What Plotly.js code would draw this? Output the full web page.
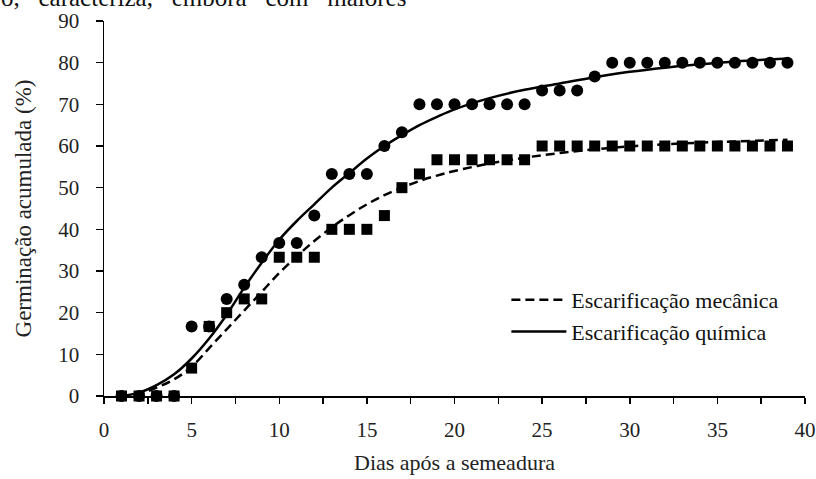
<!DOCTYPE html>
<html>
<head>
<meta charset="utf-8">
<script src="https://cdn.plot.ly/plotly-3.0.1.min.js"></script>
<style>html,body{margin:0;padding:0;background:#fff;}#chart{width:816px;height:479px;}</style>
</head>
<body>
<div id="chart"></div>
<script>
// Observed points (days 1..39)
const days = [1,2,3,4,5,6,7,8,9,10,11,12,13,14,15,16,17,18,19,20,21,22,23,24,25,26,27,28,29,30,31,32,33,34,35,36,37,38,39];
const mecanica = [0,0,0,0,6.7,16.7,20,23.3,23.3,33.3,33.3,33.3,40,40,40,43.3,50,53.3,56.7,56.7,56.7,56.7,56.7,56.7,60,60,60,60,60,60,60,60,60,60,60,60,60,60,60];
const quimica = [0,0,0,0,16.7,16.7,23.3,26.7,33.3,36.7,36.7,43.3,53.3,53.3,53.3,60,63.3,70,70,70,70,70,70,70,73.3,73.3,73.3,76.7,80,80,80,80,80,80,80,80,80,80,80];

// Fitted curves
const curveDays = [1,2,3,4,5,6,7,8,9,10,11,12,13,14,15,16,17,18,19,20,22,24,26,28,30,32,34,36,39];
const curveMecanica = [0,0.5,2,4,7,11.5,16,20.5,25,29.5,33.5,37.2,40.5,43.4,46,48.2,50,51.6,52.9,54,55.8,57.2,58.3,59.2,59.9,60.4,60.8,61.1,61.5];
const curveQuimica = [0,0.8,2.6,5.2,9,13.8,19.5,26,32,37.5,42,46,50,53.5,57,60,62.6,65,67,68.8,71.5,73.5,75,76.5,77.8,78.8,79.6,80.3,81];

const labelMec = 'Escarificação mecânica';
const labelQui = 'Escarificação química';
const xTitle = 'Dias após a semeadura';
const yTitle = 'Germinação acumulada (%)';
const topText = 'o,\u00a0\u00a0\u00a0caracteriza,\u00a0\u00a0\u00a0embora\u00a0\u00a0\u00a0com\u00a0\u00a0\u00a0maiores';

const serif = "'Liberation Serif', 'Times New Roman', Times, serif";

const traces = [
  {x: days, y: mecanica, type: 'scatter', mode: 'markers', showlegend: false, cliponaxis: false,
   marker: {symbol: 'square', size: 11, color: '#000'}},
  {x: days, y: quimica, type: 'scatter', mode: 'markers', showlegend: false, cliponaxis: false,
   marker: {symbol: 'circle', size: 12, color: '#000'}},
  {x: curveDays, y: curveMecanica, type: 'scatter', mode: 'lines', name: labelMec, legendgroup: 'a',
   line: {color: '#000', width: 2.5, dash: '9px,5px', shape: 'spline'}},
  {x: curveDays, y: curveQuimica, type: 'scatter', mode: 'lines', name: labelQui, legendgroup: 'b',
   line: {color: '#000', width: 2.5, shape: 'spline'}}
];

const layout = {
  width: 816, height: 479,
  margin: {l: 104, r: 11, t: 21, b: 83},
  paper_bgcolor: '#fff', plot_bgcolor: '#fff',
  font: {family: serif, size: 20, color: '#222'},
  showlegend: true,
  legend: {x: 0.574, y: 0.312, xanchor: 'left', yanchor: 'top', bgcolor: 'rgba(0,0,0,0)',
           itemwidth: 55,
           font: {family: serif, size: 22, color: '#111'}, tracegroupgap: 17, traceorder: 'normal'},
  xaxis: {range: [0, 40], dtick: 5, tick0: 0, showgrid: false, zeroline: false,
          showline: true, linecolor: '#000', linewidth: 1.5,
          ticks: 'outside', ticklen: 6, tickwidth: 1.5, tickcolor: '#000',
          minor: {dtick: 2.5, ticks: 'outside', ticklen: 6, tickwidth: 1.5, tickcolor: '#000', showgrid: false},
          ticklabelstandoff: 8,
          tickfont: {family: serif, size: 21, color: '#222'},
          title: {text: xTitle, font: {family: serif, size: 22, color: '#222'}, standoff: 14},
          automargin: false},
  yaxis: {range: [0, 90], dtick: 10, showgrid: false, zeroline: false,
          showline: true, linecolor: '#000', linewidth: 1.5,
          ticks: 'outside', ticklen: 7, tickwidth: 1.5, tickcolor: '#000',
          ticklabelstandoff: 12,
          tickfont: {family: serif, size: 21, color: '#222'},
          title: {text: yTitle, font: {family: serif, size: 23, color: '#222'}, standoff: 20},
          automargin: false},
  annotations: [
    {text: topText, xref: 'paper', yref: 'paper', x: -0.15, y: 1.0, xanchor: 'left', yanchor: 'bottom',
     yshift: 8, showarrow: false, font: {family: serif, size: 25, color: '#111'}}
  ]
};

Plotly.newPlot('chart', traces, layout, {displayModeBar: false, staticPlot: true});
</script>
</body>
</html>
